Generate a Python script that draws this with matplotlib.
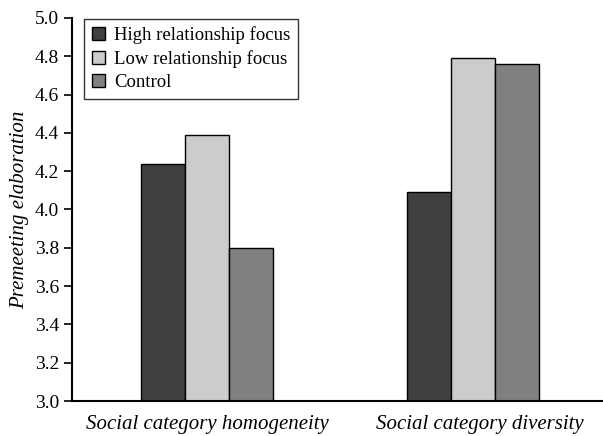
import numpy as np
import matplotlib.pyplot as plt
from matplotlib.patches import Patch
from matplotlib.transforms import ScaledTranslation

groups = ["Social category homogeneity", "Social category diversity"]
series = ["High relationship focus", "Low relationship focus", "Control"]
high = [4.24, 4.09]
low = [4.39, 4.79]
control = [3.80, 4.76]
yticks = [3.0, 3.2, 3.4, 3.6, 3.8, 4.0, 4.2, 4.4, 4.6, 4.8, 5.0]

colors = ["#404040", "#cccccc", "#808080"]

plt.rcParams['font.family'] = ['Liberation Serif', 'DejaVu Serif']

fig = plt.figure(figsize=(6.03, 4.36), dpi=100)
ax = fig.add_axes([0.119, 0.080, 0.879, 0.879])

x = np.arange(len(groups))
w = 0.166
for i, vals in enumerate([high, low, control]):
    ax.bar(x + (i - 1) * w, np.array(vals) - 3.0, w, bottom=3.0,
           color=colors[i], edgecolor="black", linewidth=1.0, zorder=2)

ax.set_xlim(-0.508, 1.484)
ax.set_ylim(3.0, 5.0)
ax.set_yticks(yticks)
ax.set_yticklabels(["%.1f" % t for t in yticks], fontsize=14)
ax.set_xticks(x)
ax.set_xticklabels(groups, fontsize=15, style="italic")
ax.tick_params(axis="x", length=0, pad=10)
ax.tick_params(axis="y", direction="out", length=6, width=1.2, pad=3)
ax.set_ylabel("Premeeting elaboration", fontsize=15, style="italic", labelpad=4)

# second category label sits a little right of its bars
lab = ax.get_xticklabels()[1]
lab.set_transform(lab.get_transform() + ScaledTranslation(0.07, 0, fig.dpi_scale_trans))

for s in ["top", "right"]:
    ax.spines[s].set_visible(False)
ax.spines["left"].set_linewidth(1.5)
ax.spines["bottom"].set_linewidth(1.5)

handles = [Patch(facecolor=c, edgecolor="black", linewidth=1.0) for c in colors]
leg = ax.legend(handles, series, loc="upper left", bbox_to_anchor=(0.023, 0.998),
                fontsize=13.5, frameon=True, fancybox=False, handlelength=0.7,
                handleheight=0.7, handletextpad=0.5, borderpad=0.42,
                labelspacing=0.32, borderaxespad=0.0)
leg.get_frame().set_edgecolor("black")
leg.get_frame().set_linewidth(1.0)

fig.savefig("out.png", dpi=100)
